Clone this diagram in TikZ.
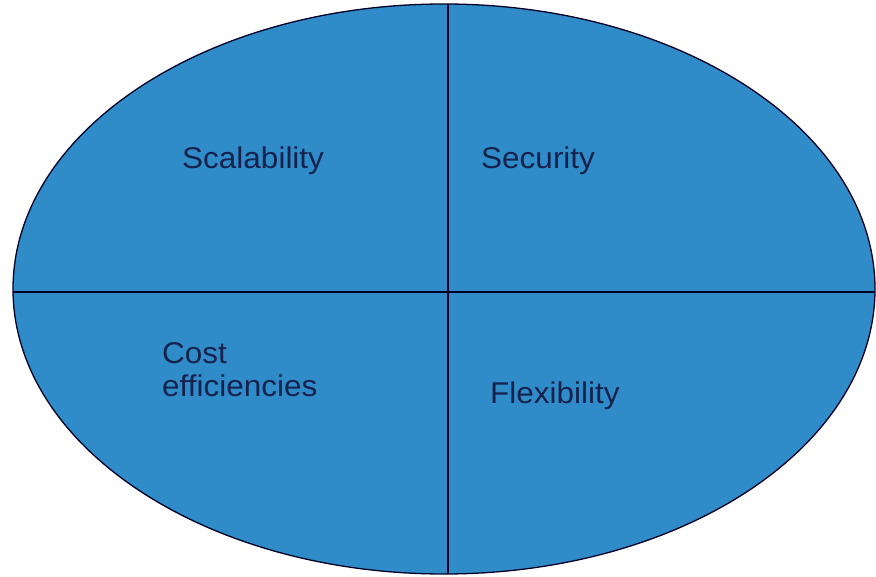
\documentclass[tikz,border=0pt]{standalone}
\usepackage{fontspec}
\setmainfont{Liberation Sans}
\definecolor{fillblue}{RGB}{48,140,201}
\definecolor{textnavy}{RGB}{22,34,78}
\begin{document}
\begin{tikzpicture}[x=1pt,y=-1pt,
  lbl/.style={anchor=base west,inner sep=0pt,text=textnavy,font=\fontsize{30}{34}\selectfont,xscale=1.05,align=left},
  edge/.style={draw=black!85!blue,line width=1.3pt}]
\useasboundingbox (0,0) rectangle (876,577);
\fill[fillblue] (444,289) ellipse [x radius=431, y radius=285];
\coordinate (top) at (448,4.5);
\coordinate (bot) at (448,573.5);
\coordinate (lft) at (13,292);
\coordinate (rgt) at (875,292);
\draw[edge] (top) -- (bot);
\draw[edge] (lft) -- (rgt);
\draw[edge] (444,289) ellipse [x radius=431, y radius=285];
\node[lbl] (scal) at (182,169) {Scalability};
\node[lbl] (sec) at (481,169) {Security};
\node[lbl] (cost) at (162,363) {Cost};
\node[lbl] (eff) at (162,397) {efficiencies};
\node[lbl] (flex) at (490,403) {Flexibility};
\end{tikzpicture}
\end{document}
